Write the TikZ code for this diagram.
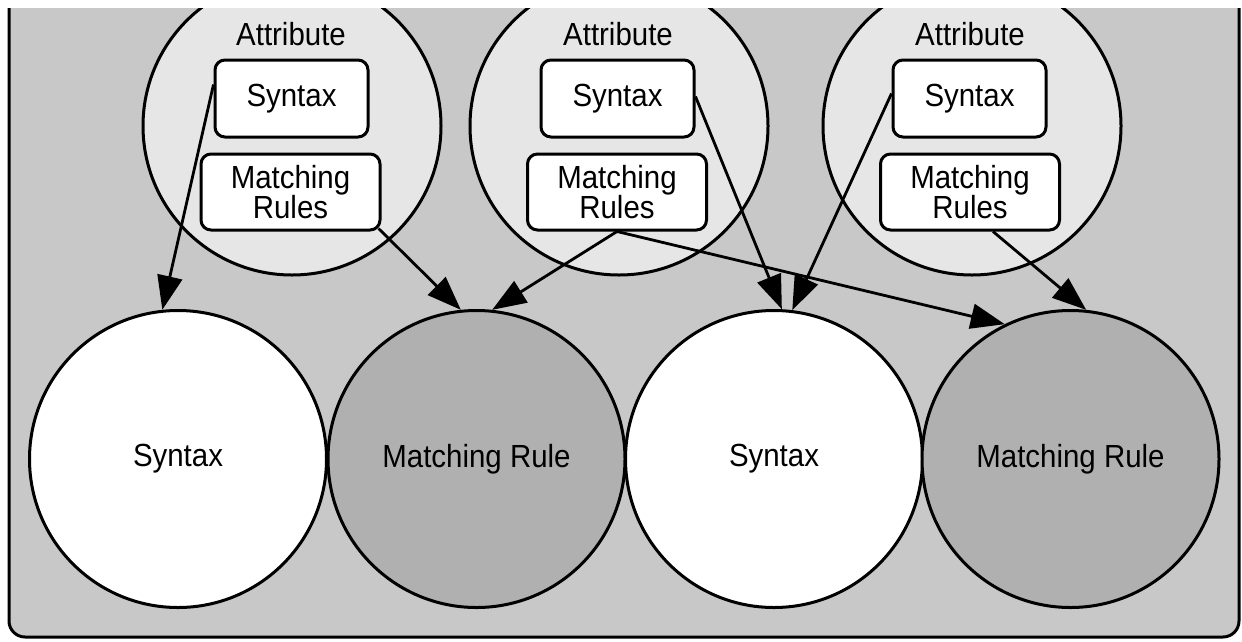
\documentclass[tikz,border=0pt]{standalone}
\usepackage{fontspec}
\setmainfont{Liberation Sans}[FakeStretch=0.92]
\usetikzlibrary{arrows.meta}
\definecolor{panelgray}{RGB}{200,200,200}
\definecolor{attrgray}{RGB}{230,230,230}
\definecolor{rulegray}{RGB}{176,176,176}
\begin{document}
\begin{tikzpicture}[x=1pt,y=-1pt,
  lbl/.style={font=\fontsize{32}{30}\selectfont},
  attr/.style={circle,draw,line width=3pt,fill=attrgray,minimum size=298pt,inner sep=0pt},
  bigsyn/.style={circle,draw,line width=3pt,fill=white,minimum size=297pt,inner sep=0pt,lbl},
  bigrule/.style={circle,draw,line width=3pt,fill=rulegray,minimum size=297pt,inner sep=0pt,lbl},
  synbox/.style={draw,line width=3pt,fill=white,rounded corners=10pt,minimum width=153pt,minimum height=77pt,inner sep=0pt,lbl},
  rulebox/.style={draw,line width=3pt,fill=white,rounded corners=10pt,minimum width=179pt,minimum height=76pt,inner sep=0pt,lbl,align=center},
  link/.style={line width=2.8pt,-{Triangle[length=34pt,width=25pt]}}
]
\useasboundingbox (0,0) rectangle (1242,641);
\begin{scope}
  \clip (0,8) rectangle (1242,641);
  % panel
  \draw[line width=3pt,fill=panelgray,rounded corners=16pt] (9,-40) rectangle (1239,637);
  % lower row
  \node[bigsyn]  (A) at (178,459) {Syntax};
  \node[bigrule] (B) at (476.5,459) {Matching Rule};
  \node[bigsyn]  (C) at (774,459) {Syntax};
  \node[bigrule] (D) at (1070.5,459) {Matching Rule};
  % attribute circles
  \node[attr] (c1) at (292,126) {};
  \node[attr] (c2) at (619,126) {};
  \node[attr] (c3) at (972,126) {};
  \node[lbl] (t1) at (291,34) {Attribute};
  \node[lbl] (t2) at (618,34) {Attribute};
  \node[lbl] (t3) at (970,34) {Attribute};
  \node[synbox]  (s1) at (291.5,98.5) {Syntax};
  \node[synbox]  (s2) at (617.5,98.5) {Syntax};
  \node[synbox]  (s3) at (969.5,98.5) {Syntax};
  \node[rulebox] (m1) at (290.5,192) {Matching\\Rules};
  \node[rulebox] (m2) at (617,192) {Matching\\Rules};
  \node[rulebox] (m3) at (970,192) {Matching\\Rules};
  % links
  \draw[link] ([yshift=14pt]s1.west) -- (A.96);
  \draw[link] ([xshift=-3pt,yshift=3pt]m1.south east) -- (B.96);
  \draw[link] (m2.south) -- (B.84);
  \draw[link] (m2.south) -- (D.116);
  \draw[link] ([yshift=2pt]s2.east) -- (C.87);
  \draw[link] ([yshift=5pt]s3.west) -- (C.83);
  \draw[link] ([xshift=23pt]m3.south) -- (D.84);
\end{scope}
\end{tikzpicture}
\end{document}
